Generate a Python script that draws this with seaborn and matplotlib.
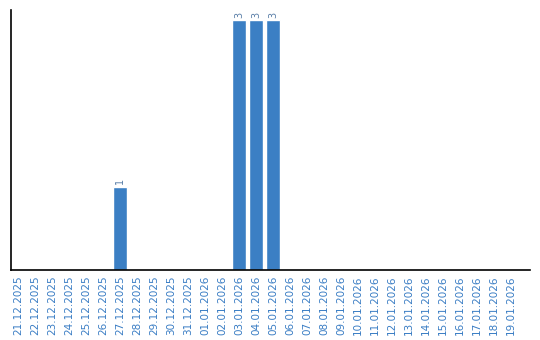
import matplotlib
matplotlib.use("Agg")
import matplotlib.pyplot as plt
import seaborn as sns
import pandas as pd

dates = ["21.12.2025", "22.12.2025", "23.12.2025", "24.12.2025", "25.12.2025",
         "26.12.2025", "27.12.2025", "28.12.2025", "29.12.2025", "30.12.2025",
         "31.12.2025", "01.01.2026", "02.01.2026", "03.01.2026", "04.01.2026",
         "05.01.2026", "06.01.2026", "07.01.2026", "08.01.2026", "09.01.2026",
         "10.01.2026", "11.01.2026", "12.01.2026", "13.01.2026", "14.01.2026",
         "15.01.2026", "16.01.2026", "17.01.2026", "18.01.2026", "19.01.2026"]
counts = [0, 0, 0, 0, 0, 0, 1, 0, 0, 0, 0, 0, 0, 3, 3, 3,
          0, 0, 0, 0, 0, 0, 0, 0, 0, 0, 0, 0, 0, 0]

df = pd.DataFrame({"date": dates, "count": counts})

sns.set_style("white")
plt.rcParams['font.family'] = ['DejaVu Sans']
fig = plt.figure(figsize=(5.4, 3.4), dpi=100)
ax = fig.add_axes([11/540, 1-270/340, 519/540, 260/340])

bar_color = "#3b7fc4"
sns.barplot(data=df, x="date", y="count", color=bar_color, width=0.82,
            saturation=1, ax=ax)

for i, v in enumerate(counts):
    if v > 0:
        ax.text(i, v + 0.03, str(v), rotation=90, ha="center", va="bottom",
                fontsize=7, color="#5a7fa8")

ax.set_xlim(-0.41, 30.1)
ax.set_ylim(0, 3.12)
ax.set_xlabel("")
ax.set_ylabel("")
ax.set_yticks([])
ax.tick_params(axis="x", length=0, pad=4)
for lbl in ax.get_xticklabels():
    lbl.set_rotation(90)
    lbl.set_fontsize(7.5)
    lbl.set_color("#3a7dc4")

for s in ["top", "right"]:
    ax.spines[s].set_visible(False)
for s in ["left", "bottom"]:
    ax.spines[s].set_color("black")
    ax.spines[s].set_linewidth(1.2)

fig.savefig("out.png", dpi=100)
